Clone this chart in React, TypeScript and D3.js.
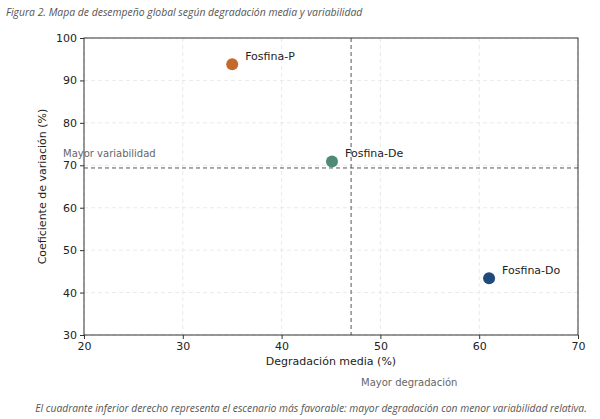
import { useEffect, useRef } from 'react'
import * as d3 from 'd3'

const names = ['Fosfina-P', 'Fosfina-De', 'Fosfina-Do']
const degradation = [35.0, 45.1, 61.0]
const variation = [93.8, 70.9, 43.4]
const colors = ['#C3692C', '#4F8B74', '#1F4A7A']
const xTicks = [20, 30, 40, 50, 60, 70]
const yTicks = [30, 40, 50, 60, 70, 80, 90, 100]

const width = 600
const height = 419
const margin = { top: 38, right: 22, bottom: 84, left: 84 }

export default function App() {
  const svgRef = useRef<SVGSVGElement>(null)

  useEffect(() => {
    if (!svgRef.current) return
    const svg = d3.select(svgRef.current)
    svg.selectAll('*').remove()

    const innerWidth = width - margin.left - margin.right
    const innerHeight = height - margin.top - margin.bottom
    const tickFont = 'DejaVu Sans, sans-serif'
    const noteFont = 'Open Sans, Lato, sans-serif'

    const x = d3.scaleLinear().domain([20, 70]).range([0, innerWidth])
    const y = d3.scaleLinear().domain([30, 100]).range([innerHeight, 0])

    const data = names.map((name, i) => ({
      name,
      x: degradation[i],
      y: variation[i],
      color: colors[i],
    }))
    const meanX = d3.mean(degradation) || 0
    const meanY = d3.mean(variation) || 0

    svg.append('text')
      .attr('x', 6)
      .attr('y', 16)
      .attr('font-family', noteFont)
      .attr('font-style', 'italic')
      .attr('font-size', 10.4)
      .attr('fill', '#555')
      .text('Figura 2. Mapa de desempeño global según degradación media y variabilidad')

    const g = svg.append('g')
      .attr('transform', `translate(${margin.left},${margin.top})`)

    // grid
    g.selectAll('.gx')
      .data(xTicks)
      .enter().append('line')
      .attr('x1', d => x(d)).attr('x2', d => x(d))
      .attr('y1', 0).attr('y2', innerHeight)
      .attr('stroke', '#e4e4e4').attr('stroke-dasharray', '4,3').attr('stroke-width', 0.8)
    g.selectAll('.gy')
      .data(yTicks)
      .enter().append('line')
      .attr('y1', d => y(d)).attr('y2', d => y(d))
      .attr('x1', 0).attr('x2', innerWidth)
      .attr('stroke', '#e4e4e4').attr('stroke-dasharray', '4,3').attr('stroke-width', 0.8)

    // mean reference lines
    g.append('line')
      .attr('x1', x(meanX)).attr('x2', x(meanX))
      .attr('y1', 0).attr('y2', innerHeight)
      .attr('stroke', '#555').attr('stroke-dasharray', '4,3').attr('stroke-width', 1)
    g.append('line')
      .attr('x1', 0).attr('x2', innerWidth)
      .attr('y1', y(meanY)).attr('y2', y(meanY))
      .attr('stroke', '#555').attr('stroke-dasharray', '4,3').attr('stroke-width', 1)

    // frame
    g.append('rect')
      .attr('width', innerWidth).attr('height', innerHeight)
      .attr('fill', 'none').attr('stroke', '#333').attr('stroke-width', 1)

    const xAxis = g.append('g')
      .attr('transform', `translate(0,${innerHeight})`)
      .call(d3.axisBottom(x).tickValues(xTicks).tickSize(4).tickPadding(3))
    const yAxis = g.append('g')
      .call(d3.axisLeft(y).tickValues(yTicks).tickSize(4).tickPadding(3))
    ;[xAxis, yAxis].forEach(a => {
      a.select('.domain').remove()
      a.selectAll('line').attr('stroke', '#333')
      a.selectAll('text')
        .attr('font-family', tickFont)
        .attr('font-size', 11)
        .attr('fill', '#222')
    })

    g.selectAll('.pt')
      .data(data)
      .enter().append('circle')
      .attr('cx', d => x(d.x))
      .attr('cy', d => y(d.y))
      .attr('r', 6)
      .attr('fill', d => d.color)

    g.selectAll('.lbl')
      .data(data)
      .enter().append('text')
      .attr('x', d => x(d.x) + 13)
      .attr('y', d => y(d.y) - 4)
      .attr('font-family', tickFont)
      .attr('font-size', 11)
      .attr('fill', '#222')
      .text(d => d.name)

    g.append('text')
      .attr('x', -21)
      .attr('y', y(meanY) - 11)
      .attr('font-family', tickFont)
      .attr('font-size', 10)
      .attr('fill', '#666')
      .text('Mayor variabilidad')

    g.append('text')
      .attr('x', innerWidth / 2)
      .attr('y', innerHeight + 30)
      .attr('text-anchor', 'middle')
      .attr('font-family', tickFont)
      .attr('font-size', 11)
      .attr('fill', '#222')
      .text('Degradación media (%)')

    g.append('text')
      .attr('transform', `translate(${-38},${innerHeight / 2}) rotate(-90)`)
      .attr('text-anchor', 'middle')
      .attr('font-family', tickFont)
      .attr('font-size', 11)
      .attr('fill', '#222')
      .text('Coeficiente de variación (%)')

    g.append('text')
      .attr('x', x(meanX) + 10)
      .attr('y', innerHeight + 51)
      .attr('font-family', tickFont)
      .attr('font-size', 10)
      .attr('fill', '#666')
      .text('Mayor degradación')

    svg.append('text')
      .attr('x', 311)
      .attr('y', 412)
      .attr('text-anchor', 'middle')
      .attr('font-family', noteFont)
      .attr('font-style', 'italic')
      .attr('font-size', 10.3)
      .attr('fill', '#555')
      .text('El cuadrante inferior derecho representa el escenario más favorable: mayor degradación con menor variabilidad relativa.')
  }, [])

  return (
    <svg
      ref={svgRef}
      width={width}
      height={height}
      style={{ position: 'absolute', left: 0, top: 0, background: '#fff' }}
    />
  )
}
